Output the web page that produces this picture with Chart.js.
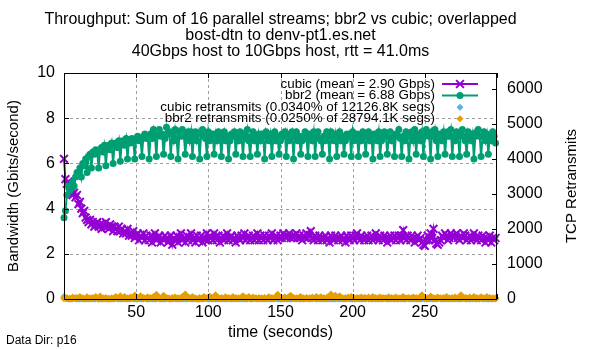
<!DOCTYPE html>
<html><head><meta charset="utf-8">
<script src="https://cdn.jsdelivr.net/npm/chart.js@4"></script>
<style>html,body{margin:0;padding:0;background:#fff}</style>
</head><body>
<canvas id="c" width="600" height="350"></canvas>
<script>
const titleLines = [
  "Throughput: Sum of 16 parallel streams; bbr2 vs cubic; overlapped",
  "bost-dtn to denv-pt1.es.net",
  "40Gbps host to 10Gbps host, rtt = 41.0ms"
];
const xTitle = "time (seconds)";
const yTitle = "Bandwidth (Gbits/second)";
const y2Title = "TCP Retransmits";
const dataDirNote = "Data Dir: p16";
const seriesLabels = [
  "cubic (mean = 2.90 Gbps)",
  "bbr2 (mean = 6.88 Gbps)",
  "cubic retransmits (0.0340% of 12126.8K segs)",
  "bbr2 retransmits (0.0250% of 28794.1K segs)"
];
const seriesColors = ["#9400d3", "#009e73", "#56b4e9", "#e69f00"];
const xTickValues = [0, 50, 100, 150, 200, 250, 300];
const yTickValues = [0, 2, 4, 6, 8, 10];
const y2TickValues = [0, 1000, 2000, 3000, 4000, 5000, 6000];
const y2Max = 6457;

// Bandwidth, Gbits/s, one sample per second from t = 0
const cubic = [
  6.2,5.3,5.1,5.2,5.0,4.7,4.6,4.7,4.5,4.6,
  4.2,4.3,4.0,3.8,3.9,3.6,3.5,3.4,3.5,3.3,
  3.4,3.2,3.3,3.4,3.2,3.3,3.1,3.3,3.2,3.4,
  3.2,3.1,3.3,3.2,3.0,3.2,3.1,3.0,3.2,3.0,
  3.1,2.9,3.0,2.9,3.1,2.8,2.9,2.8,3.0,2.7,
  2.8,2.9,2.6,2.8,2.7,2.9,2.6,2.8,2.7,2.6,
  2.8,2.5,2.7,2.9,2.6,2.7,2.8,2.5,2.7,2.6,
  2.8,2.7,2.5,2.6,2.8,2.4,2.7,2.6,2.8,2.5,
  2.7,2.9,2.6,2.7,2.5,2.8,2.6,2.7,2.9,2.6,
  2.7,2.5,2.8,2.6,2.7,2.8,2.5,2.7,2.6,2.9,
  2.6,2.8,2.7,2.6,2.9,2.7,2.6,2.8,2.5,2.7,
  2.8,2.6,2.7,2.9,2.6,2.7,2.8,2.6,2.7,2.5,
  2.8,2.7,2.6,2.8,2.7,2.9,2.6,2.7,2.8,2.6,
  2.7,2.8,2.6,2.7,2.9,2.6,2.8,2.7,2.6,2.8,
  2.7,2.6,2.8,2.7,2.9,2.6,2.7,2.8,2.6,2.7,
  2.8,2.7,2.9,2.8,2.7,2.8,2.9,2.7,2.8,2.7,
  2.8,2.9,2.7,2.8,2.7,2.6,2.8,2.7,2.9,2.7,
  2.8,3.0,2.7,2.6,2.8,2.7,2.6,2.8,2.7,2.6,
  2.7,2.8,2.6,2.7,2.5,2.8,2.7,2.6,2.8,2.7,
  2.6,2.7,2.8,2.6,2.7,2.5,2.8,2.7,2.6,2.8,
  2.7,2.6,2.8,2.9,2.7,2.6,2.8,2.7,2.6,2.7,
  2.8,2.6,2.7,2.8,2.6,2.7,2.9,2.7,2.6,2.8,
  2.7,2.6,2.8,2.7,2.5,2.7,2.8,2.6,2.7,2.8,
  2.6,2.7,2.8,2.6,2.8,3.05,2.7,2.6,2.8,2.7,
  2.6,2.8,2.7,2.5,2.7,2.8,2.6,2.7,2.5,2.4,
  2.35,2.6,2.8,2.6,2.9,2.7,3.1,2.6,2.45,2.4,
  2.5,2.6,2.8,2.7,2.9,2.8,2.6,2.7,2.9,2.8,
  2.7,2.8,2.9,2.7,2.6,2.8,2.7,2.9,2.8,2.6,
  2.7,2.8,2.6,2.7,2.9,2.7,2.6,2.8,2.7,2.6,
  2.8,2.7,2.5,2.7,2.6,2.8,2.5,2.7,2.6,2.7
];
const bbr2 = [
  3.6,3.9,4.6,5.0,4.8,4.9,5.2,5.0,5.4,5.6,
  5.5,5.8,5.4,6.0,5.9,6.2,5.6,6.3,6.4,5.8,
  6.5,6.4,6.6,6.5,5.8,6.6,6.7,6.5,6.8,5.9,
  6.7,6.8,6.6,6.9,6.0,6.8,6.9,6.7,7.0,6.1,
  6.9,7.0,6.8,7.1,6.2,7.0,6.9,7.1,7.0,6.2,
  7.1,7.2,7.0,7.1,6.3,7.2,7.3,7.1,7.2,6.2,
  7.3,7.1,7.5,7.2,6.3,7.4,7.5,7.2,7.3,6.4,
  7.1,7.6,7.3,7.4,6.3,7.3,7.0,7.5,7.1,6.2,
  7.4,7.2,7.5,7.3,6.4,7.1,7.4,7.0,7.4,6.3,
  7.2,7.4,7.0,7.3,6.2,7.3,7.5,7.2,7.1,6.3,
  7.4,7.0,7.2,7.3,6.4,7.3,7.0,7.4,7.2,6.3,
  7.1,7.4,7.0,7.2,6.2,7.0,7.3,7.2,7.4,6.4,
  7.2,7.0,7.4,7.2,6.3,7.3,7.1,7.5,7.0,6.3,
  7.2,7.4,7.0,7.2,6.4,7.3,7.0,7.3,7.2,6.2,
  7.4,7.2,7.0,7.3,6.3,7.1,7.4,7.0,7.2,6.4,
  7.0,7.3,7.2,7.4,6.3,7.3,7.0,7.2,7.4,6.2,
  7.2,7.4,7.0,7.2,6.4,7.0,7.2,7.4,7.1,6.3,
  7.3,7.2,7.0,7.4,6.3,7.2,7.4,7.1,7.0,6.4,
  7.2,7.0,7.4,7.2,6.2,7.4,7.2,7.0,7.3,6.3,
  7.1,7.4,7.0,7.2,6.4,7.0,7.3,7.2,7.3,6.3,
  7.4,7.0,7.2,7.3,6.3,7.2,7.0,7.4,7.2,6.4,
  7.2,7.4,7.0,7.2,6.2,7.3,7.2,7.0,7.4,6.3,
  7.0,7.2,7.4,7.2,6.4,7.2,7.4,7.0,7.2,6.3,
  7.3,7.2,7.5,7.1,6.3,7.2,7.0,7.4,7.2,6.2,
  7.2,7.4,7.0,7.5,6.4,7.3,7.2,7.0,7.4,6.3,
  7.2,7.5,7.3,7.2,6.2,7.4,7.2,7.5,7.0,6.3,
  7.3,7.2,7.0,7.4,6.4,7.2,7.4,7.2,7.5,6.3,
  7.2,7.0,7.4,7.2,6.3,7.3,7.5,7.2,7.0,6.4,
  7.4,7.2,7.0,7.3,6.2,7.2,7.4,7.5,7.2,6.3,
  7.2,7.4,7.0,7.3,6.4,7.2,7.0,7.4,7.2,6.9
];
// Retransmits per second (right axis); null = no retransmit sample drawn
const cubicRetrans = [
  70,20,0,0,10,0,0,20,0,0,
  0,0,10,0,0,30,0,0,0,10,
  0,0,0,20,0,0,0,0,10,0,
  0,10,0,0,0,0,20,0,0,0,
  0,0,10,0,0,0,0,30,0,0,
  0,0,0,10,0,0,20,0,0,0,
  10,0,0,0,0,20,0,0,0,0,
  0,0,30,0,0,0,10,0,0,0,
  0,0,0,10,0,0,0,20,0,0,
  0,10,0,0,0,0,0,0,20,0,
  0,0,10,0,0,0,0,30,0,0,
  0,0,0,0,20,0,0,0,0,10,
  0,0,0,10,0,0,0,0,20,0,
  0,0,20,0,0,0,10,0,0,0,
  0,10,0,0,0,0,0,20,0,0,
  0,0,0,0,10,0,0,0,0,30,
  0,0,10,0,0,0,0,0,20,0,
  0,0,0,20,0,0,0,10,0,0,
  0,0,0,0,10,0,0,0,0,20,
  0,0,10,0,0,0,0,20,0,0,
  0,0,0,0,10,0,0,0,0,0,
  20,0,0,0,0,10,0,0,0,0,
  0,0,20,0,0,0,0,10,0,0,
  0,0,0,10,0,0,0,0,20,0,
  0,0,10,0,0,0,0,0,0,20,
  0,0,0,0,10,0,0,0,0,0,
  20,0,0,0,0,10,0,0,0,0,
  0,0,10,0,0,0,0,20,0,0,
  0,0,0,0,10,0,0,0,0,20,
  0,0,10,0,0,0,0,0,10,0
];
const bbr2Retrans = [
  20,null,30,null,10,null,40,null,20,30,
  null,60,null,20,null,10,50,null,20,null,
  30,null,60,null,10,70,null,20,null,30,
  null,10,null,20,null,30,60,null,20,80,
  null,30,60,null,20,null,40,null,30,100,
  null,20,null,80,null,30,null,20,50,null,
  30,null,60,20,120,null,30,null,20,90,
  null,20,null,10,null,30,null,40,null,20,
  null,30,60,null,130,20,null,30,null,60,
  null,20,null,10,30,null,20,60,null,30,
  null,70,20,null,30,110,null,20,null,30,
  null,20,50,null,30,null,20,60,null,30,
  null,20,null,40,80,null,30,null,60,20,
  null,40,null,20,null,30,null,20,null,30,
  null,20,50,null,30,null,20,null,120,null,
  30,null,20,40,null,20,60,90,null,30,
  null,20,null,30,60,null,20,null,30,null,
  20,null,40,null,30,60,null,20,50,null,
  30,null,20,60,null,130,20,null,90,30,
  null,80,null,20,null,30,null,40,null,60,
  null,20,null,30,null,20,40,null,30,20,
  null,40,null,20,60,null,30,null,20,40,
  null,30,null,20,null,50,null,30,null,20,
  40,null,20,null,30,60,null,20,null,30,
  null,20,40,null,30,null,20,60,110,null,
  30,null,20,null,70,null,30,null,20,40,
  null,20,null,30,null,60,null,20,null,30,
  null,40,null,20,30,110,60,null,30,20,
  null,40,null,20,60,null,30,null,20,50,
  null,20,null,60,null,30,null,20,null,20
];
const seconds = cubic.map((_, i) => i);   // sample times, s

const FONT = "'Liberation Sans', Arial, Helvetica, sans-serif";
const pts = arr => arr.map((v, i) => ({x: seconds[i], y: v}));
const setTicks = vals => s => { s.ticks = vals.map(v => ({value: v})); };

function drawMarker(ctx, style, x, y, r, color) {
  ctx.save();
  ctx.strokeStyle = color; ctx.fillStyle = color; ctx.lineWidth = 2; ctx.setLineDash([]);
  ctx.beginPath();
  if (style === 'crossRot') {
    const o = r * Math.SQRT1_2;
    ctx.moveTo(x - o, y - o); ctx.lineTo(x + o, y + o);
    ctx.moveTo(x - o, y + o); ctx.lineTo(x + o, y - o);
    ctx.stroke();
  } else if (style === 'circle') {
    ctx.arc(x, y, r, 0, Math.PI * 2); ctx.fill();
  } else {
    ctx.moveTo(x - r, y); ctx.lineTo(x, y - r); ctx.lineTo(x + r, y); ctx.lineTo(x, y + r);
    ctx.closePath(); ctx.fill();
  }
  ctx.restore();
}

const decor = {
  id: 'decor',
  beforeDatasetsDraw(chart) {
    const {ctx, chartArea: a, scales} = chart;
    ctx.save();
    ctx.strokeStyle = '#a0a0a0'; ctx.lineWidth = 1; ctx.setLineDash([3, 3]);
    scales.x.ticks.forEach(t => {
      if (t.value <= scales.x.min || t.value >= scales.x.max) return;
      const px = Math.round(scales.x.getPixelForValue(t.value)) + 0.5;
      ctx.beginPath(); ctx.moveTo(px, a.top); ctx.lineTo(px, a.bottom); ctx.stroke();
    });
    scales.y.ticks.forEach(t => {
      if (t.value <= scales.y.min || t.value >= scales.y.max) return;
      const py = Math.round(scales.y.getPixelForValue(t.value)) + 0.5;
      ctx.beginPath(); ctx.moveTo(a.left, py); ctx.lineTo(a.right, py); ctx.stroke();
    });
    ctx.restore();
  },
  afterDatasetsDraw(chart) {
    const {ctx, chartArea: a, scales} = chart;
    ctx.save();
    ctx.strokeStyle = '#000'; ctx.lineWidth = 1; ctx.setLineDash([]);
    ctx.strokeRect(Math.round(a.left) + 0.5, Math.round(a.top) + 0.5,
                   Math.round(a.right - a.left) - 1, Math.round(a.bottom - a.top));
    const TL = 5;
    ctx.beginPath();
    scales.x.ticks.forEach(t => {
      const px = Math.round(scales.x.getPixelForValue(t.value)) + 0.5;
      ctx.moveTo(px, a.bottom); ctx.lineTo(px, a.bottom - TL);
      ctx.moveTo(px, a.top); ctx.lineTo(px, a.top + TL);
    });
    scales.y.ticks.forEach(t => {
      const py = Math.round(scales.y.getPixelForValue(t.value)) + 0.5;
      ctx.moveTo(a.left, py); ctx.lineTo(a.left + TL, py);
    });
    scales.y2.ticks.forEach(t => {
      const py = Math.round(scales.y2.getPixelForValue(t.value)) + 0.5;
      ctx.moveTo(a.right, py); ctx.lineTo(a.right - TL, py);
    });
    ctx.stroke();

    ctx.fillStyle = '#000';
    ctx.font = '16px ' + FONT; ctx.textAlign = 'center'; ctx.textBaseline = 'middle';
    const cx = (a.left + a.right) / 2;
    titleLines.forEach((s, i) => ctx.fillText(s, cx, 20 + i * 16));

    ctx.save();
    ctx.translate(572, (a.top + a.bottom) / 2); ctx.rotate(-Math.PI / 2);
    ctx.font = '15px ' + FONT; ctx.textAlign = 'center'; ctx.textBaseline = 'middle';
    ctx.fillText(y2Title, 0, 0);
    ctx.restore();

    ctx.font = '12px ' + FONT; ctx.textAlign = 'left'; ctx.textBaseline = 'middle';
    ctx.fillText(dataDirNote, 6, 341);

    const styles = ['crossRot', 'circle', 'rectRot', 'rectRot'];
    const radii = [5.5, 3.5, 3.5, 3.5];
    ctx.font = '13.4px ' + FONT; ctx.textAlign = 'right'; ctx.textBaseline = 'middle';
    seriesLabels.forEach((s, i) => {
      const y = 84 + i * 11.6;
      ctx.fillStyle = '#000';
      ctx.fillText(s, 435, y);
      if (i < 2) {
        ctx.strokeStyle = seriesColors[i]; ctx.lineWidth = 2;
        ctx.beginPath(); ctx.moveTo(442, y); ctx.lineTo(478, y); ctx.stroke();
      }
      drawMarker(ctx, styles[i], 460, y, radii[i], seriesColors[i]);
    });
    ctx.restore();
  }
};

const tickFont = {family: FONT, size: 16, lineHeight: 1};
new Chart(document.getElementById('c'), {
  type: 'line',
  data: {
    datasets: [
      {label: seriesLabels[0], data: pts(cubic), yAxisID: 'y', order: 4, clip: false,
       borderColor: seriesColors[0], backgroundColor: seriesColors[0], borderWidth: 2,
       pointStyle: 'crossRot', pointRadius: 5.5, pointBorderWidth: 2, pointBorderColor: seriesColors[0], tension: 0},
      {label: seriesLabels[1], data: pts(bbr2), yAxisID: 'y', order: 3, clip: false,
       borderColor: seriesColors[1], backgroundColor: seriesColors[1], borderWidth: 2,
       pointStyle: 'circle', pointRadius: 3.5, pointBorderWidth: 0, pointBackgroundColor: seriesColors[1], tension: 0},
      {label: seriesLabels[2], data: pts(cubicRetrans), yAxisID: 'y2', order: 2, clip: false, showLine: false,
       borderColor: seriesColors[2], backgroundColor: seriesColors[2],
       pointStyle: 'rectRot', pointRadius: 3.5, pointBorderWidth: 0, pointBackgroundColor: seriesColors[2]},
      {label: seriesLabels[3], data: pts(bbr2Retrans), yAxisID: 'y2', order: 1, clip: false, showLine: false,
       borderColor: seriesColors[3], backgroundColor: seriesColors[3],
       pointStyle: 'rectRot', pointRadius: 4, pointBorderWidth: 0, pointBackgroundColor: seriesColors[3]}
    ]
  },
  options: {
    responsive: false, animation: false, devicePixelRatio: 1, events: [],
    layout: {padding: {top: 73, left: 0, right: 0, bottom: 0}},
    plugins: {legend: {display: false}, title: {display: false}, tooltip: {enabled: false}},
    scales: {
      x: {type: 'linear', min: 0, max: 300, bounds: 'data',
          afterBuildTicks: setTicks(xTickValues),
          grid: {display: false, drawTicks: false}, border: {display: false},
          ticks: {color: '#000', font: tickFont, padding: 6, maxRotation: 0, autoSkip: false,
                  callback: v => (v <= 0 || v >= 300) ? '' : String(v)},
          title: {display: true, text: xTitle, color: '#000', font: {family: FONT, size: 16, lineHeight: 1},
                  padding: {top: 0, bottom: 9}},
          afterFit: s => { s.height = 51; }},
      y: {type: 'linear', position: 'left', min: 0, max: 10, bounds: 'data',
          afterBuildTicks: setTicks(yTickValues),
          grid: {display: false, drawTicks: false}, border: {display: false},
          ticks: {color: '#000', font: tickFont, padding: 9, autoSkip: false, callback: v => String(v)},
          title: {display: true, text: yTitle, color: '#000', font: {family: FONT, size: 15, lineHeight: 1},
                  padding: {top: 6, bottom: 0}},
          afterFit: s => { s.width = 64; }},
      y2: {type: 'linear', position: 'right', min: 0, max: y2Max, bounds: 'data',
          afterBuildTicks: setTicks(y2TickValues),
          grid: {display: false, drawTicks: false}, border: {display: false},
          ticks: {color: '#000', font: tickFont, padding: 10, autoSkip: false, callback: v => String(v)},
          afterFit: s => { s.width = 103; }}
    }
  },
  plugins: [decor]
});
</script>
</body></html>
